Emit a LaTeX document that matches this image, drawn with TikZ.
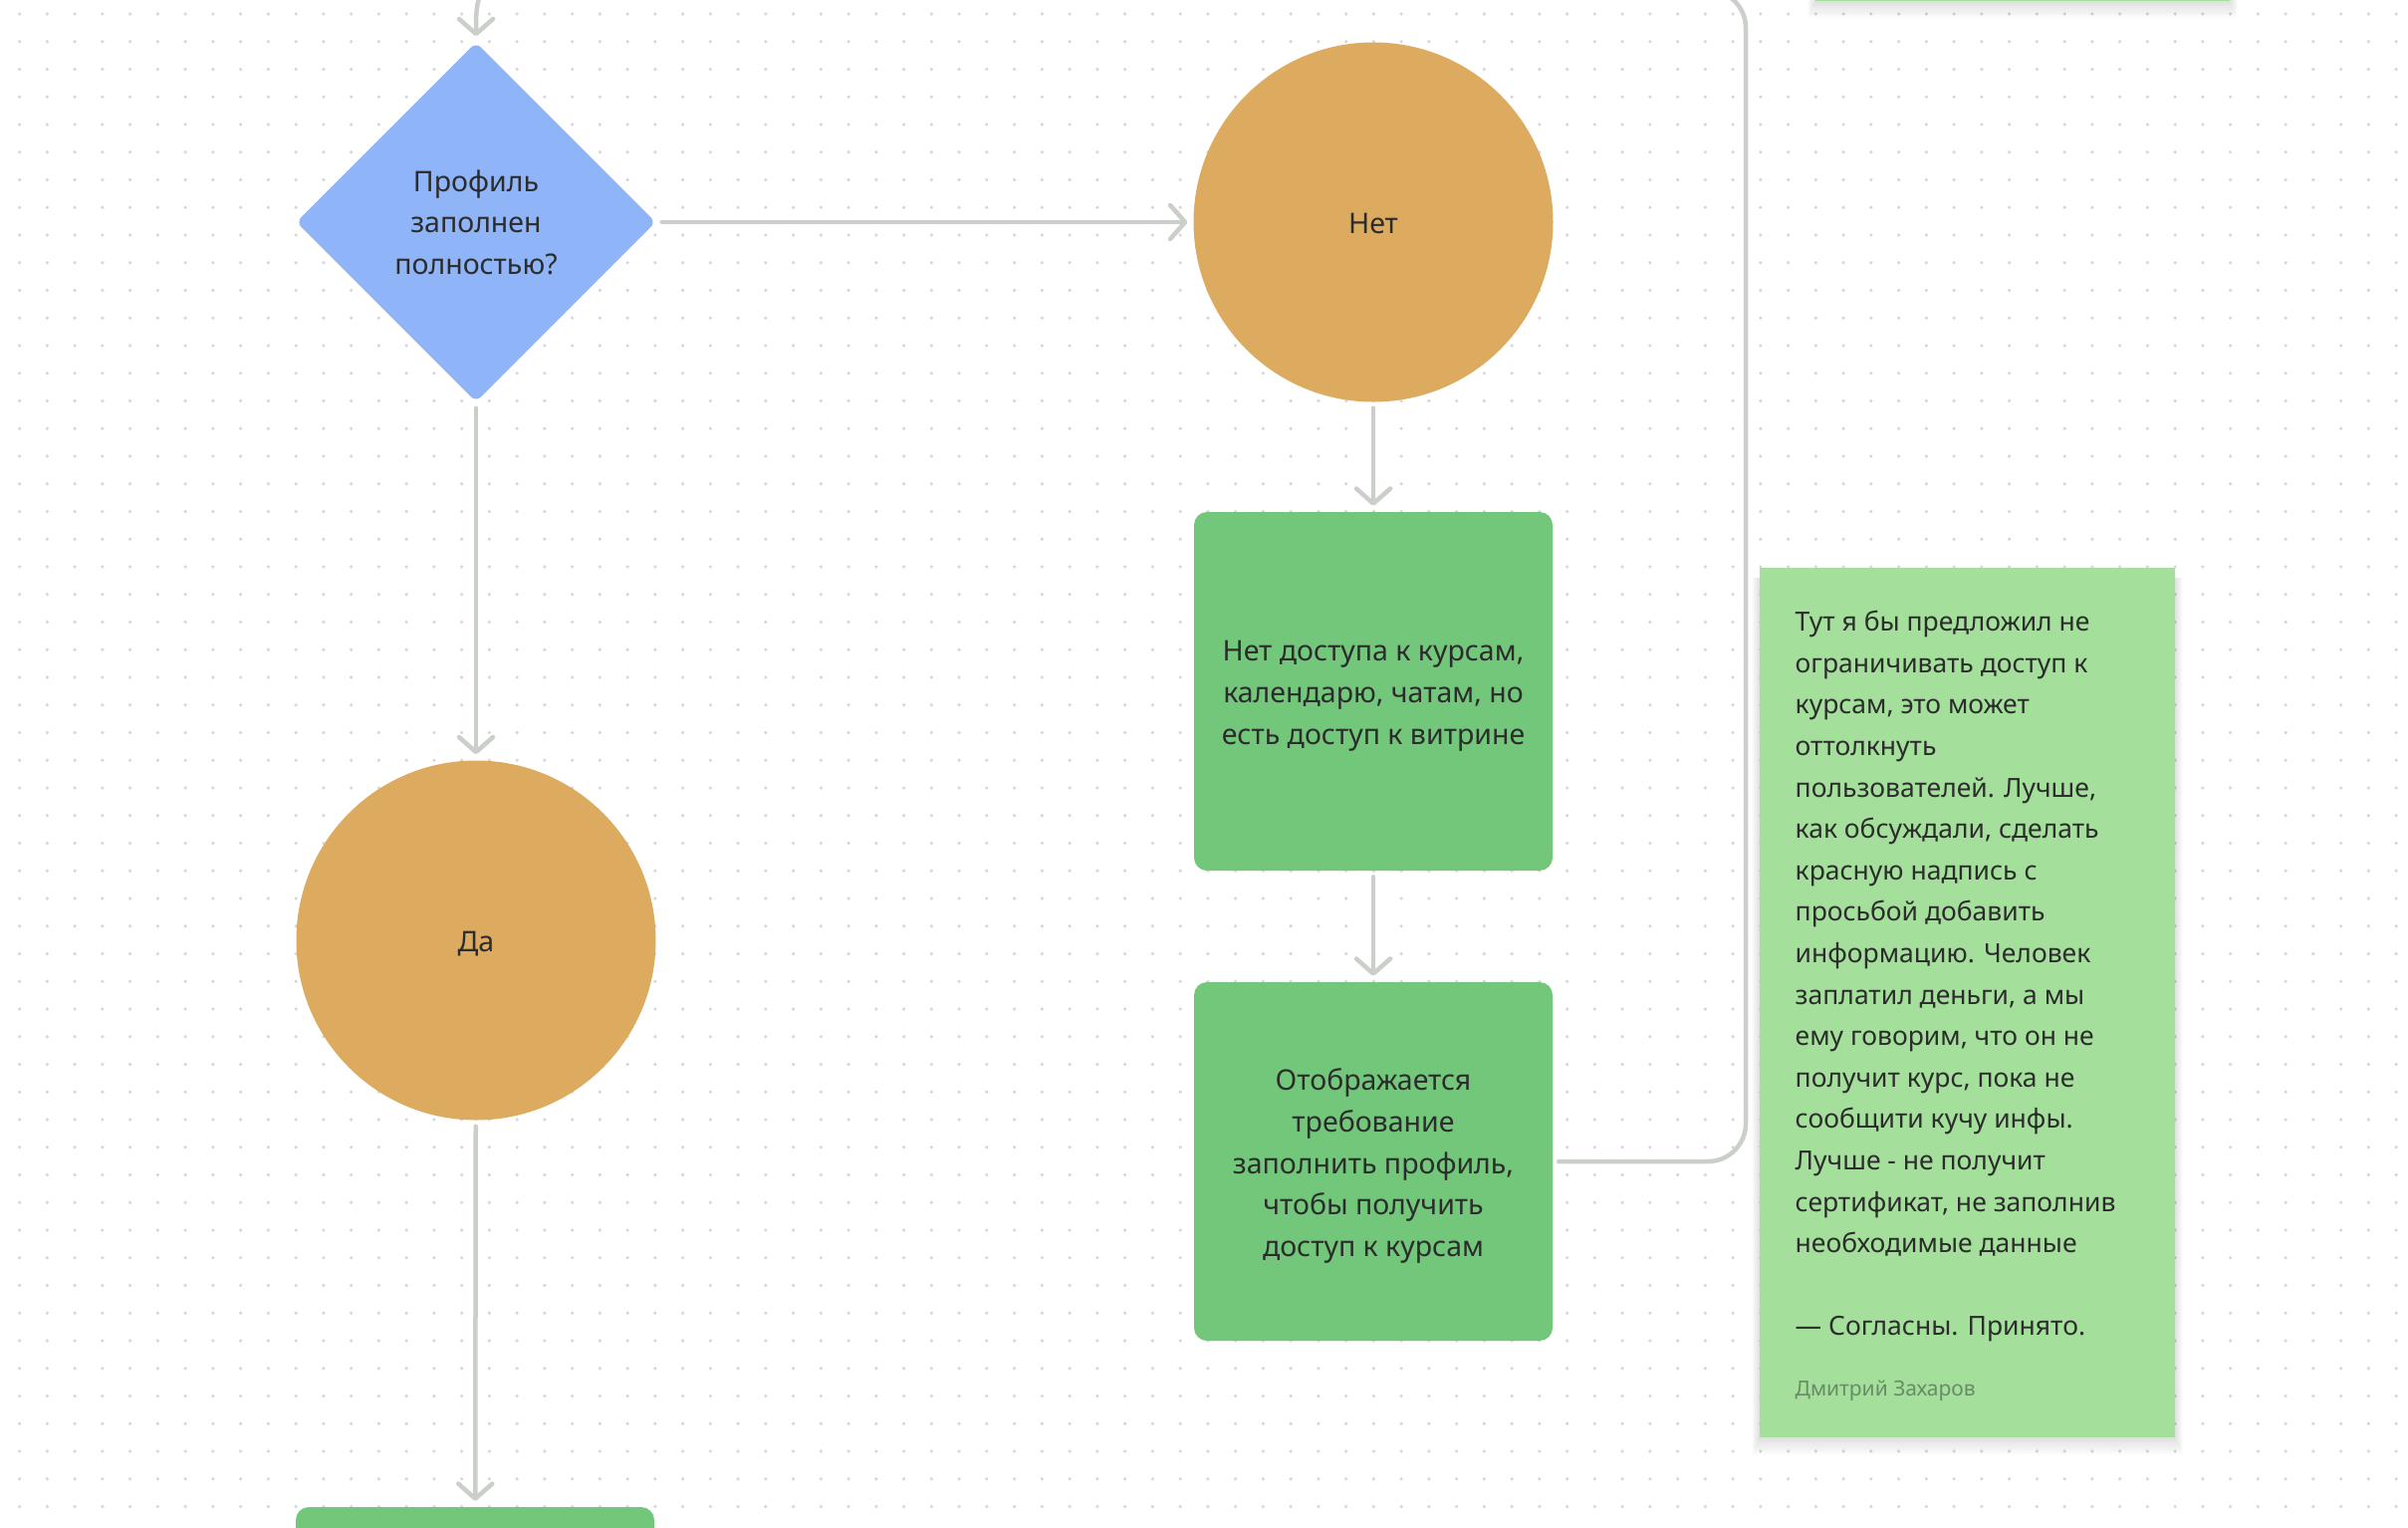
\documentclass[tikz,border=0pt]{standalone}
\usepackage{fontspec}
\setmainfont{Noto Sans}
\usetikzlibrary{shapes.geometric,arrows.meta}
\definecolor{dotc}{RGB}{214,214,214}
\definecolor{linec}{RGB}{203,207,201}
\definecolor{bluec}{RGB}{143,181,248}
\definecolor{orangec}{RGB}{220,171,95}
\definecolor{greenc}{RGB}{114,199,123}
\definecolor{notec}{RGB}{164,223,155}
\definecolor{textc}{RGB}{44,44,44}
\definecolor{authorc}{RGB}{104,140,102}
\newcommand{\lift}[1]{\rule{0pt}{#1}}
\begin{document}
\begin{tikzpicture}[x=1pt,y=-1pt,
  conn/.style={draw=linec, line width=4.5pt, line cap=round, line join=round,
    -{Straight Barb[length=15pt,width=34pt,line cap=round,line join=round]},
    shorten <=6pt, shorten >=6pt},
  plain/.style={draw=linec, line width=4.5pt, line cap=round, line join=round},
  basefont/.style={font=\fontsize{28.5}{41.6}\selectfont, text=textc},
  notefont/.style={font=\fontsize{26.5}{41.6}\selectfont, text=textc},
  decision/.style={diamond, aspect=1, fill=bluec, minimum width=361pt, minimum height=361pt,
    inner sep=0pt, rounded corners=7pt, align=center, basefont},
  answer/.style={circle, fill=orangec, minimum size=361pt, inner sep=0pt, align=center, basefont},
  stepbox/.style={rectangle, fill=greenc, minimum width=360pt, minimum height=360pt,
    rounded corners=13pt, inner sep=0pt, align=center, basefont},
  sticky/.style={rectangle, fill=notec, inner sep=0pt}
]
\useasboundingbox (0,0) rectangle (2418,1534);
\clip (0,0) rectangle (2418,1534);
\fill[white] (0,0) rectangle (2418,1534);
% dot grid
\foreach \i in {0,...,86}{
  \foreach \j in {0,...,55}{
    \fill[dotc] (19.6+27.75*\i, 14+27.75*\j) circle (1.8);
  }
}
% shadows of the sticky notes
\foreach \k in {1,...,10}{
  \fill[black, opacity=0.012] (1767-\k*0.8, 580) rectangle (2184+\k*0.8, 1443+\k*1.8);
  \fill[black, opacity=0.012] (1823-\k*0.8, -50) rectangle (2239+\k*0.8, 1+\k*1.8);
}
% sticky notes
\node[sticky, minimum width=416pt, minimum height=400pt] (topnote) at (2031,-199) {};
\node[sticky, minimum width=417pt, minimum height=873pt] (note) at (1975.5,1006.5) {};
\node[anchor=north west, inner sep=0pt, align=left, notefont] (notetext) at (1802.5,613)
{Тут я бы предложил не\\
ограничивать доступ к\\
курсам, это может\\
оттолкнуть\\
пользователей. Лучше,\\
как обсуждали, сделать\\
красную надпись с\\
просьбой добавить\\
информацию. Человек\\
заплатил деньги, а мы\\
ему говорим, что он не\\
получит курс, пока не\\
сообщити кучу инфы.\\
Лучше - не получит\\
сертификат, не заполнив\\
необходимые данные\\[41.6pt]
— Согласны. Принято.};
\node[anchor=west, inner sep=0pt, font=\fontsize{21}{25}\selectfont, text=authorc] (author) at (1802.5,1396) {Дмитрий Захаров};
% shapes
\node[decision] (profile) at (478,223) {Профиль\\заполнен\\полностью?};
\node[answer] (net) at (1379,223) {\lift{23.5pt}Нет};
\node[answer] (da) at (478,944) {\lift{26.5pt}Да};
\node[stepbox] (noaccess) at (1379,694) {\lift{30pt}Нет доступа к курсам,\\календарю, чатам, но\\есть доступ к витрине};
\node[stepbox] (require) at (1379,1166) {\lift{31pt}Отображается\\требование\\заполнить профиль,\\чтобы получить\\доступ к курсам};
\node[stepbox] (nextbox) at (477,1693) {};
% connectors
\coordinate (topin) at (494,-22);
\coordinate (rtop) at (1753,-10);
\coordinate (rtopleft) at (1600,-10);
\draw[conn, shorten <=0pt] (topin) .. controls (478,-6) and (478,8) .. (profile.north);
\draw[conn] (profile) -- (net);
\draw[conn] (profile) -- (da);
\draw[conn] (net) -- (noaccess);
\draw[conn] (noaccess) -- (require);
\draw[conn] (da) -- (nextbox);
\draw[plain, rounded corners=38pt] ([xshift=6pt]require.east) -| (rtop) -- (rtopleft);
\end{tikzpicture}
\end{document}
